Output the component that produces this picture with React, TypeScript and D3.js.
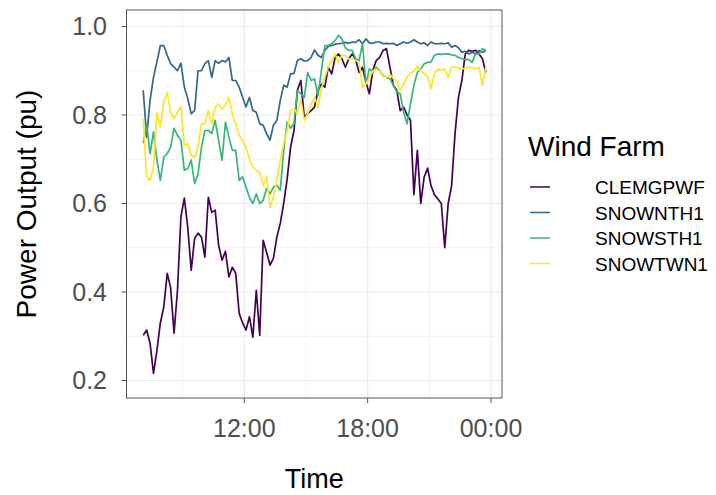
import React from "react";
import * as d3 from "d3";

// Wind farm power output, 10-minute samples from 07:05 to 23:45
const START_HOUR = 7;
const START_MIN = 5;
const STEP_MIN = 10;

const farms = ["CLEMGPWF", "SNOWNTH1", "SNOWSTH1", "SNOWTWN1"];
const farmColors = ["#440154", "#31688E", "#35B779", "#FDE725"];

const clemgpwf = [
  0.302, 0.314, 0.284, 0.216, 0.268, 0.33, 0.366, 0.442, 0.41, 0.307, 0.404,
  0.57, 0.612, 0.546, 0.449, 0.521, 0.533, 0.524, 0.479, 0.614, 0.58,
  0.585, 0.506, 0.472, 0.492, 0.434, 0.456, 0.442, 0.352, 0.33, 0.314,
  0.344, 0.298, 0.404, 0.302, 0.517, 0.49, 0.461, 0.476, 0.524, 0.555,
  0.6, 0.655, 0.727, 0.765, 0.856, 0.878, 0.795, 0.803, 0.81, 0.818,
  0.856, 0.87, 0.863, 0.908, 0.893, 0.93, 0.938, 0.927, 0.908, 0.927,
  0.938, 0.925, 0.896, 0.908, 0.874, 0.848, 0.9, 0.923, 0.93, 0.946,
  0.95, 0.908, 0.867, 0.856, 0.81, 0.818, 0.8, 0.788, 0.62, 0.72,
  0.6, 0.66, 0.68, 0.64, 0.62, 0.61, 0.6, 0.5, 0.6, 0.64,
  0.758, 0.84, 0.878, 0.938, 0.946, 0.944, 0.946, 0.938, 0.927, 0.896,
];

const snownth1 = [
  0.856, 0.75, 0.833, 0.885, 0.92, 0.957, 0.957, 0.935, 0.916, 0.908, 0.9,
  0.917, 0.863, 0.837, 0.803, 0.81, 0.9, 0.9, 0.916, 0.923, 0.885,
  0.923, 0.917, 0.923, 0.92, 0.93, 0.878, 0.878, 0.863, 0.84, 0.818,
  0.84, 0.81, 0.806, 0.78, 0.777, 0.758, 0.743, 0.777, 0.788, 0.833,
  0.867, 0.863, 0.893, 0.894, 0.923, 0.927, 0.922, 0.923, 0.93, 0.947,
  0.935, 0.93, 0.946, 0.955, 0.957, 0.96, 0.961, 0.962, 0.964, 0.962,
  0.965, 0.964, 0.97, 0.961, 0.972, 0.963, 0.962, 0.965, 0.965, 0.961,
  0.962, 0.961, 0.962, 0.957, 0.961, 0.965, 0.962, 0.965, 0.97, 0.965,
  0.961, 0.963, 0.957, 0.965, 0.961, 0.961, 0.962, 0.961, 0.963, 0.953,
  0.957, 0.952, 0.942, 0.944, 0.938, 0.942, 0.938, 0.946, 0.942, 0.946,
];

const snowsth1 = [
  0.736, 0.777, 0.713, 0.762, 0.698, 0.652, 0.705, 0.713, 0.727, 0.77, 0.754,
  0.743, 0.675, 0.679, 0.698, 0.645, 0.667, 0.727, 0.765, 0.765, 0.758,
  0.788, 0.743, 0.698, 0.784, 0.75, 0.72, 0.72, 0.652, 0.66, 0.637,
  0.614, 0.6, 0.622, 0.6, 0.607, 0.634, 0.622, 0.637, 0.641, 0.63,
  0.72, 0.784, 0.77, 0.78, 0.855, 0.848, 0.84, 0.896, 0.878, 0.882,
  0.844, 0.9, 0.957, 0.957, 0.961, 0.968, 0.98, 0.972, 0.952, 0.946,
  0.946, 0.927, 0.923, 0.961, 0.87, 0.904, 0.899, 0.908, 0.9, 0.889,
  0.885, 0.882, 0.867, 0.852, 0.848, 0.806, 0.78, 0.825, 0.867, 0.896,
  0.904, 0.916, 0.919, 0.92, 0.935, 0.938, 0.937, 0.938, 0.938, 0.936,
  0.935, 0.93, 0.927, 0.925, 0.925, 0.919, 0.938, 0.938, 0.95, 0.946,
];

const snowtwn1 = [
  0.792, 0.66, 0.652, 0.682, 0.806, 0.772, 0.831, 0.851, 0.806, 0.792, 0.806,
  0.818, 0.731, 0.736, 0.709, 0.704, 0.727, 0.78, 0.78, 0.81, 0.78,
  0.818, 0.825, 0.814, 0.822, 0.84, 0.803, 0.78, 0.754, 0.743, 0.727,
  0.7, 0.682, 0.675, 0.67, 0.641, 0.66, 0.591, 0.614, 0.652, 0.698,
  0.736, 0.765, 0.81, 0.814, 0.803, 0.833, 0.788, 0.803, 0.825, 0.84,
  0.818, 0.86, 0.885, 0.908, 0.923, 0.938, 0.919, 0.935, 0.935, 0.927,
  0.927, 0.923, 0.919, 0.863, 0.87, 0.884, 0.899, 0.904, 0.899, 0.887,
  0.885, 0.892, 0.882, 0.878, 0.856, 0.87, 0.886, 0.894, 0.899, 0.91,
  0.899, 0.894, 0.886, 0.86, 0.894, 0.904, 0.9, 0.904, 0.885, 0.908,
  0.908, 0.906, 0.904, 0.906, 0.908, 0.907, 0.904, 0.908, 0.867, 0.908,
];

const seriesValues = [clemgpwf, snownth1, snowsth1, snowtwn1];

const yTicks = [0.2, 0.4, 0.6, 0.8, 1.0];
const yMinor = [0.3, 0.5, 0.7, 0.9];
const xTickHours = [12, 18, 24];
const xMinorHours = [9, 15, 21];

const W = 716;
const H = 495;
const panel = { left: 126.5, right: 502, top: 10, bottom: 398 };
const FONT = "'Liberation Sans', Arial, Helvetica, sans-serif";

const at = (h: number, m = 0) => new Date(2020, 0, 1, h, m);

export default function App() {
  const x = d3
    .scaleTime()
    .domain([at(12), at(24)])
    .range([244.3, 491]);
  const y = d3.scaleLinear().domain([0.2, 1.0]).range([380.5, 26.5]);
  const fmt = d3.timeFormat("%H:%M");

  const times = clemgpwf.map((_, i) => at(START_HOUR, START_MIN + i * STEP_MIN));

  const line = d3
    .line<number>()
    .x((_, i) => x(times[i]))
    .y((v) => y(v));

  const legendX = 528;
  const legendKeyY0 = 187;
  const legendStep = 25.5;

  return (
    <svg
      width={W}
      height={H}
      style={{ position: "absolute", left: 0, top: 0, background: "#fff" }}
      fontFamily={FONT}
    >
      <rect x={0} y={0} width={W} height={H} fill="#fff" />
      {/* grid */}
      <g>
        {yMinor.map((v) => (
          <line key={"ym" + v} x1={panel.left} x2={panel.right} y1={y(v)} y2={y(v)} stroke="#EBEBEB" strokeWidth={0.6} />
        ))}
        {xMinorHours.map((h) => (
          <line key={"xm" + h} x1={x(at(h))} x2={x(at(h))} y1={panel.top} y2={panel.bottom} stroke="#EBEBEB" strokeWidth={0.6} />
        ))}
        {yTicks.map((v) => (
          <line key={"yg" + v} x1={panel.left} x2={panel.right} y1={y(v)} y2={y(v)} stroke="#EBEBEB" strokeWidth={1.2} />
        ))}
        {xTickHours.map((h) => (
          <line key={"xg" + h} x1={x(at(h))} x2={x(at(h))} y1={panel.top} y2={panel.bottom} stroke="#EBEBEB" strokeWidth={1.2} />
        ))}
      </g>
      {/* series */}
      <g fill="none" strokeWidth={1.7} strokeLinejoin="round">
        {seriesValues.map((vals, i) => (
          <path key={farms[i]} d={line(vals) || ""} stroke={farmColors[i]} />
        ))}
      </g>
      {/* panel border */}
      <rect
        x={panel.left}
        y={panel.top}
        width={panel.right - panel.left}
        height={panel.bottom - panel.top}
        fill="none"
        stroke="#555555"
        strokeWidth={1}
      />
      {/* y axis */}
      <g>
        {yTicks.map((v) => (
          <g key={"yt" + v}>
            <line x1={panel.left - 5} x2={panel.left} y1={y(v)} y2={y(v)} stroke="#555555" strokeWidth={1} />
            <text x={107} y={y(v)} dy="0.35em" textAnchor="end" fontSize={25} fill="#4D4D4D">
              {v.toFixed(1)}
            </text>
          </g>
        ))}
      </g>
      {/* x axis */}
      <g>
        {xTickHours.map((h) => (
          <g key={"xt" + h}>
            <line x1={x(at(h))} x2={x(at(h))} y1={panel.bottom} y2={panel.bottom + 5} stroke="#555555" strokeWidth={1} />
            <text x={x(at(h))} y={437} textAnchor="middle" fontSize={25} fill="#4D4D4D">
              {fmt(at(h))}
            </text>
          </g>
        ))}
      </g>
      {/* axis titles */}
      <text x={(panel.left + panel.right) / 2} y={488} textAnchor="middle" fontSize={27} fill="#000">
        Time
      </text>
      <text
        transform={`translate(36, ${(panel.top + panel.bottom) / 2}) rotate(-90)`}
        textAnchor="middle"
        fontSize={28}
        fill="#000"
      >
        Power Output (pu)
      </text>
      {/* legend */}
      <g>
        <text x={legendX} y={156} fontSize={28} fill="#000">
          Wind Farm
        </text>
        {farms.map((f, i) => {
          const ky = legendKeyY0 + i * legendStep;
          return (
            <g key={"lg" + f}>
              <line x1={530} x2={550} y1={ky} y2={ky} stroke={farmColors[i]} strokeWidth={1.5} />
              <text x={595} y={ky + 7} fontSize={19} fill="#000">
                {f}
              </text>
            </g>
          );
        })}
      </g>
    </svg>
  );
}
